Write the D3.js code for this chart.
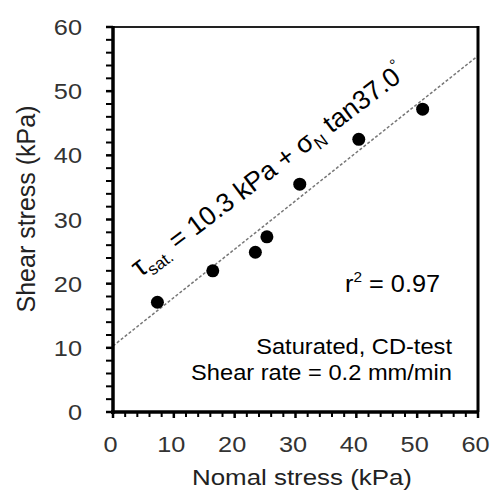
<!DOCTYPE html>
<html><head><meta charset="utf-8">
<script src="https://cdn.jsdelivr.net/npm/d3@7"></script>
<style>body{margin:0;background:#fff}svg{display:block}text{font-family:"Liberation Sans",Arial,sans-serif}</style>
</head><body><svg id="c" width="501" height="495"></svg>
<script>
const normalStress = [7.3, 16.4, 23.4, 25.3, 30.7, 40.4, 50.9];
const shearStress  = [17.1, 22.0, 24.9, 27.3, 35.5, 42.5, 47.2];
const cohesion = 10.3;
const frictionAngle = 37.0;
const xTicks = [0, 10, 20, 30, 40, 50, 60];
const yTicks = [0, 10, 20, 30, 40, 50, 60];
const minorTicks = d3.range(0, 61, 2);
const rSquared = "0.97";

const svg = d3.select("#c");
const x = d3.scaleLinear().domain([0, 60]).range([113, 478]);
const y = d3.scaleLinear().domain([0, 60]).range([412, 27]);
const SX = 1.15;
function stretch(sel, k) {
  sel.each(function () {
    const w = this.getComputedTextLength();
    d3.select(this).attr("textLength", w * k).attr("lengthAdjust", "spacingAndGlyphs");
  });
}

// regression line
const lineData = [0, 60].map(v => [v, cohesion + Math.tan(frictionAngle * Math.PI / 180) * v]);
svg.append("path")
  .attr("d", d3.line().x(d => x(d[0])).y(d => y(d[1]))(lineData))
  .attr("stroke", "#777").attr("stroke-width", 1.5).attr("stroke-dasharray", "3,2").attr("fill", "none");

// points
svg.selectAll("circle.pt").data(normalStress).join("circle")
  .attr("class", "pt")
  .attr("cx", (d) => x(d)).attr("cy", (d, i) => y(shearStress[i])).attr("r", 6.5).attr("fill", "#000");

// frame
svg.append("line").attr("x1", x(0)).attr("x2", x(60)).attr("y1", y(60)).attr("y2", y(60)).attr("stroke", "#222").attr("stroke-width", 2);
svg.append("line").attr("x1", x(60)).attr("x2", x(60)).attr("y1", y(60) - 1).attr("y2", y(0)).attr("stroke", "#000").attr("stroke-width", 3);

// y axis
const yAxis = svg.append("g").attr("transform", `translate(${x(0)},0)`);
yAxis.selectAll("line.minor").data(minorTicks).join("line")
  .attr("x1", -7).attr("x2", 0).attr("y1", d => y(d)).attr("y2", d => y(d))
  .attr("stroke", "#000").attr("stroke-width", d => d % 10 === 0 ? 2.5 : 2);
yAxis.append("line").attr("x1", 0).attr("x2", 0).attr("y1", y(60) - 1).attr("y2", y(0) + 2).attr("stroke", "#000").attr("stroke-width", 3.5);
yAxis.selectAll("text").data(yTicks).join("text")
  .attr("x", -31).attr("y", d => y(d) + 8).attr("text-anchor", "end")
  .attr("font-size", 22).attr("fill", "#333").text(d => d)
  .call(stretch, SX);

// x axis
const xAxis = svg.append("g").attr("transform", `translate(0,${y(0)})`);
xAxis.selectAll("line.minor").data(minorTicks).join("line")
  .attr("y1", 0).attr("y2", d => d % 10 === 0 ? 6 : 5).attr("x1", d => x(d)).attr("x2", d => x(d))
  .attr("stroke", "#000").attr("stroke-width", d => d % 10 === 0 ? 2.5 : 2);
xAxis.append("line").attr("x1", x(0) - 2).attr("x2", x(60) + 1).attr("y1", 0).attr("y2", 0).attr("stroke", "#000").attr("stroke-width", 3.5);
xAxis.selectAll("text").data(xTicks).join("text")
  .attr("x", d => x(d) - 2.5).attr("y", 40).attr("text-anchor", "middle")
  .attr("font-size", 22).attr("fill", "#333").text(d => d)
  .call(stretch, SX);

// axis titles
svg.append("text").attr("x", 302).attr("y", 485).attr("text-anchor", "middle")
  .attr("font-size", 22.5).attr("fill", "#222").text("Nomal stress (kPa)").call(stretch, SX);
svg.append("text").attr("transform", "translate(35,209) rotate(-90)").attr("text-anchor", "middle")
  .attr("font-size", 25).attr("fill", "#222").text("Shear stress (kPa)");

// equation
const eq = svg.append("text").attr("transform", `translate(140,278) rotate(-${frictionAngle})`)
  .attr("font-size", 26.5).attr("fill", "#000");
eq.append("tspan").attr("font-size", 29).text("τ");
eq.append("tspan").attr("font-size", 17).attr("dy", 6).text("sat.");
eq.append("tspan").attr("dy", -6).text(` = ${cohesion} kPa + σ`);
eq.append("tspan").attr("font-size", 17).attr("dy", 6).text("N");
eq.append("tspan").attr("dy", -6).text(` tan${frictionAngle.toFixed(1)}`);
eq.append("tspan").attr("font-size", 16).attr("dy", -12).text("°");

// r2
const r2 = svg.append("text").attr("x", 345).attr("y", 292).attr("font-size", 23).attr("fill", "#000");
r2.append("tspan").text("r");
r2.append("tspan").attr("font-size", 14).attr("dy", -10).text("2");
r2.append("tspan").attr("dy", 10).text(` = ${rSquared}`);
r2.call(stretch, 1.1);

svg.append("text").attr("x", 452).attr("y", 354).attr("text-anchor", "end").attr("font-size", 21.5).attr("fill", "#000")
  .text("Saturated, CD-test").call(stretch, 1.1);
svg.append("text").attr("x", 452).attr("y", 380).attr("text-anchor", "end").attr("font-size", 21.5).attr("fill", "#000")
  .text("Shear rate = 0.2 mm/min").call(stretch, 1.1);
</script></body></html>
